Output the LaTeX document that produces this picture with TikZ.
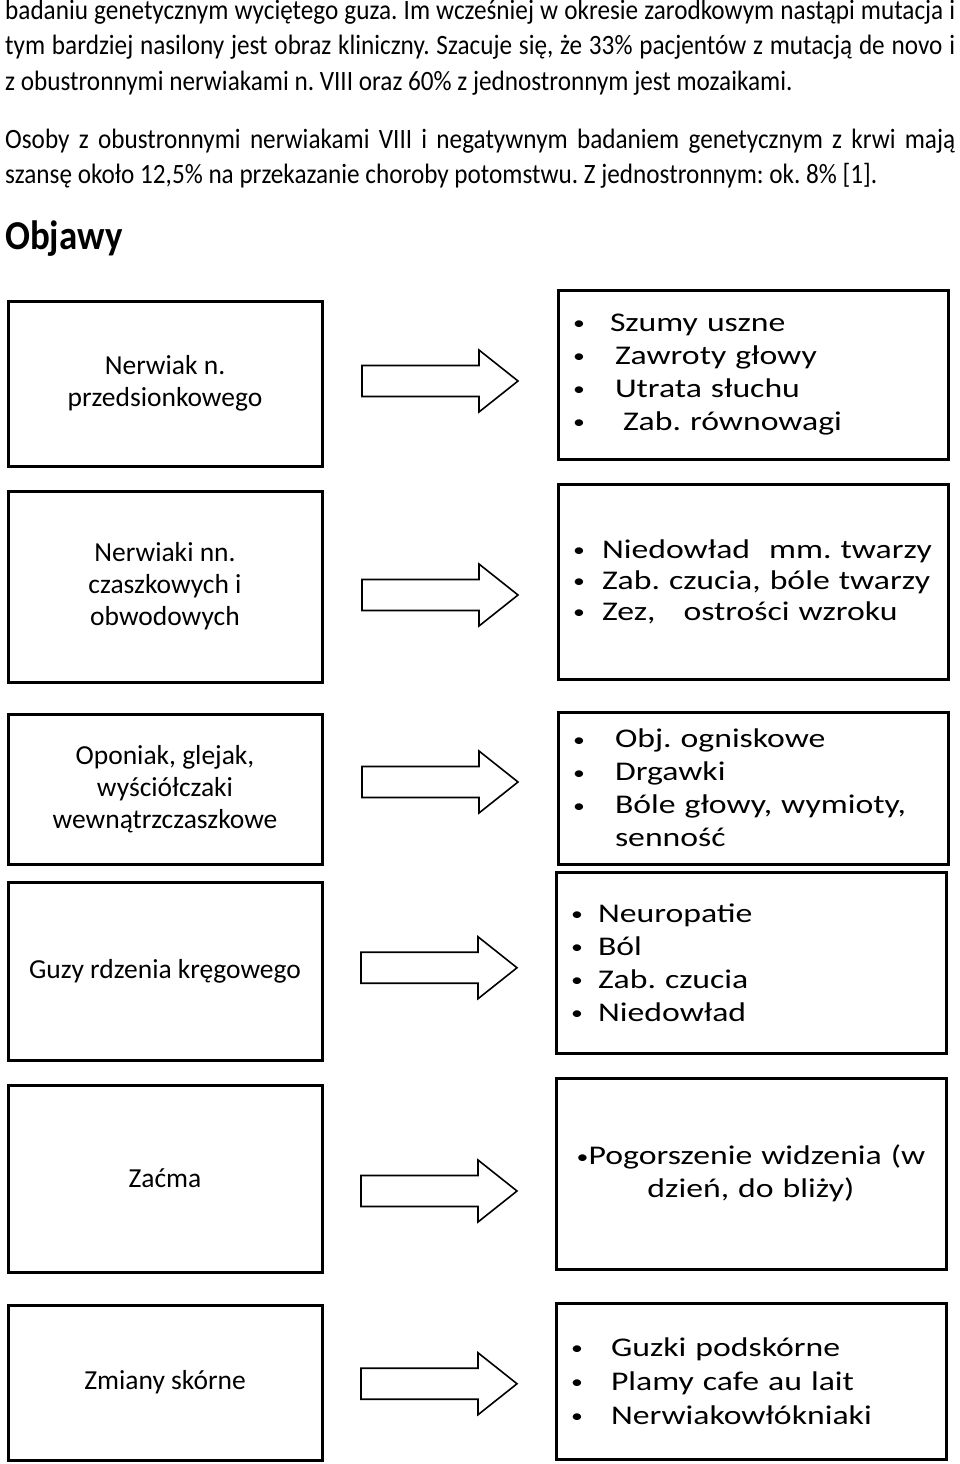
\documentclass[tikz,border=0pt]{standalone}
\usepackage{fontspec}
\setmainfont{Carlito}
\newfontfamily\narrowfont[FakeStretch=0.9]{Carlito}
\newfontfamily\widefont[FakeStretch=1.25]{Carlito}
\usetikzlibrary{calc}
\frenchspacing
\tikzset{topline/.style = {inner sep=0pt, anchor=base west,
                           font=\narrowfont\fontsize{28}{35}\selectfont},
         lbox/.style = {draw, line width=3pt, minimum width=314pt, align=center,
                        font=\fontsize{27.5}{32}\selectfont},
         rbox/.style = {draw, line width=3pt, text width=370pt, inner xsep=10pt,
                        align=left, font=\widefont\fontsize{27}{33}\selectfont},
         blockarrow/.pic = {\draw [line width=1.6pt, line join=miter]
                              (-78, -15.5) -- (39, -15.5) -- (39, -31) -- (78, 0)
                              -- (39, 31) -- (39, 15.5) -- (-78, 15.5) -- cycle;}}
\newcommand{\blt}{\raisebox{1.5pt}{\fontsize{19}{19}\selectfont\textbullet}}
\newcommand{\itm}[2]{\hspace*{11pt}\makebox[0pt]{\blt}\hspace{#1pt}#2}

\begin{document}
\begin{tikzpicture}[x=1pt, y=-1pt]
    \useasboundingbox (0, 0) rectangle (960, 1464);

    \node [topline] (t1) at (5, 20) {\makebox[950pt][s]{badaniu genetycznym wyciętego guza. Im wcześniej w okresie zarodkowym nastąpi mutacja i}};
    \node [topline] (t2) at (5, 55) {\makebox[950pt][s]{tym bardziej nasilony jest obraz kliniczny. Szacuje się, że 33\% pacjentów z mutacją de novo i}};
    \node [topline] (t3) at (5, 90) {z obustronnymi nerwiakami n. VIII oraz 60\% z jednostronnym jest mozaikami.};
    \node [topline] (t4) at (5, 148) {\makebox[950pt][s]{Osoby z obustronnymi nerwiakami VIII i negatywnym badaniem genetycznym z krwi mają}};
    \node [topline] (t5) at (5, 183) {szansę około 12,5\% na przekazanie choroby potomstwu. Z jednostronnym: ok. 8\% [1].};
    \node [topline, font=\narrowfont\fontsize{41}{48}\selectfont\bfseries] (head) at (5, 249) {Objawy};

    % schemat: przyczyna -> objawy
    \node [lbox, minimum height=165pt] (l1) at (165, 383.5) {Nerwiak n.\\przedsionkowego};
    \node [rbox, minimum height=169pt] (r1) at (753, 374.5) {\itm{31}{Szumy uszne}\\\itm{36}{Zawroty głowy}\\\itm{36}{Utrata słuchu}\\\itm{44}{Zab. równowagi}};
    \path ($(l1.east)!.5!(r1.west)$) ++(0, 2) pic {blockarrow};

    \node [lbox, minimum height=191pt] (l2) at (165, 586.5) {Nerwiaki nn.\\czaszkowych i\\obwodowych};
    \node [rbox, minimum height=195pt, font=\widefont\fontsize{27}{31}\selectfont] (r2) at (753, 581.5) {\itm{23}{Niedowład\hspace{10pt} mm. twarzy}\\\itm{23}{Zab. czucia, bóle twarzy}\\\itm{23}{Zez,\hspace{28pt}ostrości wzroku}};
    \path ($(l2.east)!.5!(r2.west)$) ++(0, 11) pic {blockarrow};

    \node [lbox, minimum height=150pt] (l3) at (165, 789) {Oponiak, glejak,\\wyściółczaki\\wewnątrzczaszkowe};
    \node [rbox, minimum height=152pt] (r3) at (753, 788) {\itm{36}{Obj. ogniskowe}\\\itm{36}{Drgawki}\\\itm{36}{Bóle głowy, wymioty,}\\\hspace*{47pt}senność};
    \path ($(l3.east)!.5!(r3.west)$) ++(0, -6.5) pic {blockarrow};

    \node [lbox, minimum height=178pt] (l4) at (165, 971) {Guzy rdzenia kręgowego};
    \node [rbox, minimum height=181pt] (r4) at (751, 962.5) {\itm{21}{Neuropatie}\\\itm{21}{Ból}\\\itm{21}{Zab. czucia}\\\itm{21}{Niedowład}};
    \path ($(l4.east)!.5!(r4.west)$) ++(0, 1) pic {blockarrow};

    \node [lbox, minimum height=187pt] (l5) at (165, 1178.5) {Zaćma};
    \node [rbox, minimum height=191pt, align=center] (r5) at (751, 1173.5) {\blt Pogorszenie widzenia (w\\dzień, do bliży)};
    \path ($(l5.east)!.5!(r5.west)$) ++(0, 15) pic {blockarrow};

    \node [lbox, minimum height=155pt] (l6) at (165, 1382.5) {Zmiany skórne};
    \node [rbox, minimum height=156pt, font=\widefont\fontsize{27}{34}\selectfont] (r6) at (751, 1381) {\itm{34}{Guzki podskórne}\\\itm{34}{Plamy cafe au lait}\\\itm{34}{Nerwiakowłókniaki}};
    \path ($(l6.east)!.5!(r6.west)$) ++(0, 2) pic {blockarrow};
\end{tikzpicture}
\end{document}
